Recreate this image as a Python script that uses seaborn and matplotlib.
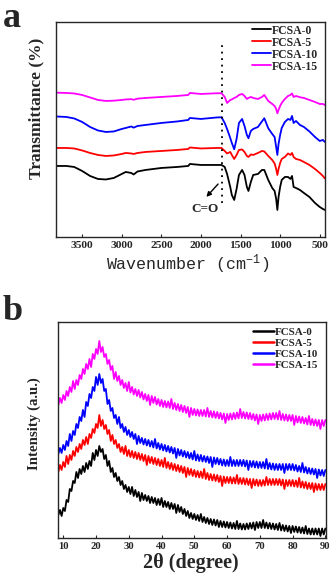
import pandas as pd
import matplotlib
matplotlib.use("Agg")
import matplotlib.pyplot as plt
import seaborn as sns

labels = ["FCSA-0", "FCSA-5", "FCSA-10", "FCSA-15"]
colors = ["#000000", "#ff0000", "#0000ff", "#ff00ff"]

# FTIR (panel a), offsets in arbitrary transmittance units
wavenumber = [3830, 3700, 3600, 3500, 3400, 3300, 3200, 3100, 3000, 2950,
              2880, 2850, 2800, 2700, 2500, 2300, 2160, 2140, 2000, 1800,
              1740, 1700, 1670, 1630, 1610, 1580, 1550, 1520, 1480, 1450,
              1420, 1400, 1370, 1340, 1280, 1230, 1200, 1150, 1100, 1070,
              1050, 1035, 1020, 1000, 980, 940, 900, 870, 850, 830,
              800, 750, 700, 630, 560, 500, 460, 435]
ftir_0 = [71, 71, 70, 66, 61, 58, 57.5, 59, 63, 65,
          64, 62.5, 65.5, 67, 69, 70, 71, 73, 72, 72,
          72, 70, 63, 50, 42, 37, 48, 62, 67, 62,
          50, 46, 55, 62, 63, 67, 67, 57, 49, 46,
          38, 27, 40, 50, 57, 60, 60, 58, 61, 50,
          49, 47, 44, 40, 34, 30, 28, 27]
ftir_5 = [89, 89, 88.5, 86.5, 84, 82, 81, 81.5, 83, 84,
          83.5, 83, 84, 85, 86, 87, 88, 89.5, 88.5, 89,
          89, 86, 83.5, 85, 82, 78, 82, 87, 87.5, 85,
          81, 80, 82.5, 82, 84, 86, 85.5, 81, 77, 73.5,
          68, 62, 68, 74, 78, 80, 83.5, 82, 84, 80,
          78, 77, 75, 72, 68, 64, 61, 58.5]
ftir_10 = [120.5, 120, 118.5, 115, 110, 106.5, 105, 105.5, 108, 109,
           110.5, 109.3, 111, 112, 114, 115.5, 117, 119, 118, 119.5,
           119.7, 114, 108, 99, 94, 87.7, 98, 114, 118, 111,
           102, 98.7, 106, 108, 110, 115.5, 118.7, 108.7, 103, 100,
           90, 82, 93, 102, 109, 115, 118, 117, 121, 114,
           116, 112, 110, 105.5, 100, 96, 97, 95]
ftir_15 = [144.3, 144, 143.5, 142, 139.5, 137, 136, 136.3, 137, 137.5,
           137.8, 137.2, 138.3, 139, 140, 141, 142, 144, 143, 143.7,
           143.7, 140, 134, 137, 137.5, 139, 140, 142, 143, 141,
           138, 139, 140, 139, 138, 140, 142, 136, 133, 131,
           128, 123.7, 127, 131, 134, 138, 141, 142, 143.5, 140,
           141, 139.7, 139, 137, 135, 133, 133, 132]

# XRD (panel b), sampled every 0.5 degree from 8.5 to 90
two_theta = [v / 2 for v in range(17, 181)]
xrd_0 = [23,
         28, 22, 30, 27, 38, 36, 49, 47, 57, 55, 66, 60, 69, 64, 72, 66, 75, 69, 77, 72,
         85, 78, 88, 82, 92, 86, 89, 79, 83, 72, 77, 66, 70, 61, 65, 57, 61, 53, 57, 49,
         53, 46, 51, 44, 51, 42, 48, 41, 46, 37, 45, 38, 43, 37, 42, 35, 41, 35, 40, 33,
         39, 33, 40, 31, 37, 31, 36, 29, 35, 29, 34, 25, 33, 26, 31, 24, 29, 22, 27, 20,
         25, 19, 24, 18, 23, 17, 24, 16, 21, 15, 20, 14, 19, 13, 18.5, 12.5, 18, 11, 17, 11,
         16.5, 10.5, 16, 10, 15.5, 9.5, 15, 9, 17, 9, 14.5, 8.5, 14, 8.5, 14.5, 9, 15, 9.5, 15.5, 8,
         16, 10, 16, 10, 18, 10, 15.5, 9.5, 15, 9, 14.5, 8.5, 14, 8, 15, 7.5, 13, 7, 12.5, 6.5,
         12, 5, 12, 6, 11.5, 5.5, 11, 5, 10.5, 4.5, 12, 4, 9.5, 3.5, 9.5, 3.5, 9.5, 3.5, 9.5, 2,
         9.5, 3.5, 9.5]
xrd_5 = [66,
         73, 68, 76, 71, 82, 74, 83, 78, 87, 82, 91, 86, 94, 89, 98, 93, 101, 94, 104, 100,
         109, 105, 114, 110, 123, 112, 118, 109, 113, 104, 108, 97, 103, 94, 98, 90, 94, 86, 91, 84,
         92, 82, 88, 81, 87, 80, 86, 79, 85, 78, 84, 77, 83, 73, 82, 75, 81, 74, 80, 73,
         79, 72, 78, 71, 80, 70, 76, 69, 75, 68, 74, 67, 73, 66, 72, 65, 71, 61, 70, 63,
         69, 62, 68, 61, 67, 60.5, 66.5, 60, 69, 59, 65, 58, 64, 57.5, 63.5, 57, 63, 56, 62, 52,
         61.5, 55, 61, 55, 61, 54.5, 60.5, 54.5, 63, 54, 60, 54, 60, 53.5, 59.5, 53, 59, 50, 59, 52.5,
         58.5, 52, 58, 52, 58, 52.5, 61, 53, 59, 53, 59, 53, 59, 53, 59, 52.5, 58.5, 49, 58, 52,
         58, 52, 58, 51.5, 57.5, 51, 60, 50.5, 56.5, 50, 56, 49, 55, 49, 55, 46, 54.5, 48, 54, 48,
         54, 48, 54]
xrd_10 = [84,
          90, 85, 93, 88, 97, 92, 104, 97, 107, 103, 114, 110, 121, 117, 128, 121, 136, 132, 144, 140,
          151, 147, 161, 153, 164, 155, 159, 147, 149, 134, 138, 127, 130, 120, 123, 114, 121, 110, 114, 106,
          111, 103, 108, 101, 106, 99, 104, 94, 102, 95, 100, 93.5, 99, 92.5, 98, 91.5, 97, 90.5, 99, 89.5,
          95, 88.5, 94, 87.5, 93, 86.5, 92, 85.5, 91, 84.5, 90, 80, 89, 82.5, 88, 81.5, 87, 80.5, 86, 79.5,
          85, 78.5, 87, 77.5, 83.5, 77, 83, 76.5, 82, 76, 81.5, 75, 81, 71, 80.5, 74, 80, 73.5, 79, 72.5,
          78.5, 72, 78, 72, 81, 72, 78, 72, 78, 72, 78, 72, 78, 71.5, 77.5, 68, 77, 71, 77, 70.5,
          76.5, 70, 76, 70, 76, 69.5, 79, 69, 75, 68.5, 74.5, 68, 74, 68, 74, 68, 74, 65, 74, 68,
          74, 68, 74, 67.5, 73, 66.5, 72, 66, 75, 65.5, 71, 64.5, 70, 64, 69.5, 63.5, 69, 60, 68.5, 62.5,
          68, 62, 68]
xrd_15 = [133,
          140, 135, 143, 138, 147, 142, 151, 146, 157, 149, 158, 153, 163, 159, 169, 164, 174, 169, 179, 171,
          184, 179, 189, 184, 197, 186, 191, 181, 184, 174, 178, 168, 172, 159, 166, 157, 162, 153, 158, 150,
          155, 147, 156, 145.5, 151, 143.5, 149, 142, 148, 140.5, 146, 138.5, 144, 137, 143, 133, 142, 135, 141, 133.5,
          139, 132, 138, 131, 137, 130.5, 136.5, 130, 139, 129, 135, 128, 134, 127, 133, 126, 132, 125, 131, 121,
          130, 123, 129, 122.5, 128.5, 122, 128, 122, 128, 121.5, 130, 121, 127, 120.5, 126.5, 120, 126, 119.5, 125, 118.5,
          124.5, 115, 124, 118, 124.5, 118.5, 125, 119, 125.5, 119.5, 129, 120, 126, 119.5, 125.5, 119, 125, 118.5, 124, 117.5,
          123.5, 114, 123, 117, 123.5, 117.5, 124, 118, 124.5, 118.5, 125, 119, 125, 118.5, 127, 118, 124, 117.5, 123.5, 117,
          123, 117, 123, 113, 122, 115.5, 121.5, 115, 121, 114.5, 120, 113.5, 122, 113, 119, 112.5, 118.5, 112, 118, 109,
          118, 112, 118]

sns.set_style("ticks")
plt.rcParams["font.family"] = ["Liberation Serif", "DejaVu Serif"]
plt.rcParams["mathtext.default"] = "regular"
plt.rcParams["axes.linewidth"] = 1.0

fig = plt.figure(figsize=(3.34, 5.87), dpi=100)
ax1 = fig.add_axes([0.1677, 0.5963, 0.805, 0.3663])
ax2 = fig.add_axes([0.1737, 0.0835, 0.8024, 0.368])

# panel a
for lab, col, vals in zip(labels, colors, [ftir_0, ftir_5, ftir_10, ftir_15]):
    sns.lineplot(x=wavenumber, y=vals, color=col, lw=1.3, label=lab, ax=ax1, sort=False)
ax1.set_xlim(3830, 435)
ax1.set_ylim(0, 215)
ax1.set_xticks([3500, 3000, 2500, 2000, 1500, 1000, 500])
ax1.set_yticks([])
ax1.tick_params(axis="x", direction="in", length=2.5, labelsize=8.2, pad=3)
for t in ax1.get_xticklabels():
    t.set_fontweight("bold")
ax1.plot([1730, 1730], [34, 195], color="black", lw=1.3, ls=(0, (1, 2.6)))
ax1.annotate("", xy=(1955, 38), xytext=(1760, 55),
             arrowprops=dict(arrowstyle="-|>", color="black", lw=1.0, mutation_scale=7))
ax1.text(1950, 28, "C=O", ha="center", va="center", fontsize=9.5, fontweight="bold")
ax1.set_xlabel("Wavenumber (cm$^{-1}$)", family="Liberation Mono", fontsize=12)
ax1.xaxis.set_label_coords(0.49, -0.07)
ax1.set_ylabel("Transmittance (%)", fontsize=12.5, fontweight="bold")
ax1.yaxis.set_label_coords(-0.045, 0.6)
ax1.legend(loc="upper left", bbox_to_anchor=(0.71, 1.01), frameon=False,
           prop={"weight": "bold", "size": 8.5}, handlelength=1.6,
           handletextpad=0.15, labelspacing=0.0, borderaxespad=0)

# panel b
for lab, col, vals in zip(labels, colors, [xrd_0, xrd_5, xrd_10, xrd_15]):
    sns.lineplot(x=two_theta, y=vals, color=col, lw=1.3, label=lab, ax=ax2)
ax2.set_xlim(8.4, 90.2)
ax2.set_ylim(0, 216)
ax2.set_xticks(range(10, 91, 10))
ax2.set_yticks([])
ax2.tick_params(axis="x", direction="in", length=2.5, labelsize=7.7, pad=3)
for t in ax2.get_xticklabels():
    t.set_fontweight("bold")
ax2.set_xlabel("2θ (degree)", fontsize=14.5, fontweight="bold")
ax2.xaxis.set_label_coords(0.495, -0.07)
ax2.set_ylabel("Intensity (a.u.)", fontsize=10.7, fontweight="bold")
ax2.yaxis.set_label_coords(-0.063, 0.528)
leg = ax2.legend(loc="upper left", bbox_to_anchor=(0.71, 0.995), frameon=False,
                 prop={"weight": "bold", "size": 7.9}, handlelength=1.9,
                 handletextpad=0.15, labelspacing=0.12, borderaxespad=0)
for h in leg.get_lines():
    h.set_linewidth(1.8)

fig.text(0.008, 0.997, "a", fontsize=26, fontweight="bold", va="top", ha="left")
fig.text(0.008, 0.497, "b", fontsize=26, fontweight="bold", va="top", ha="left")

fig.savefig("out.png", dpi=100)
